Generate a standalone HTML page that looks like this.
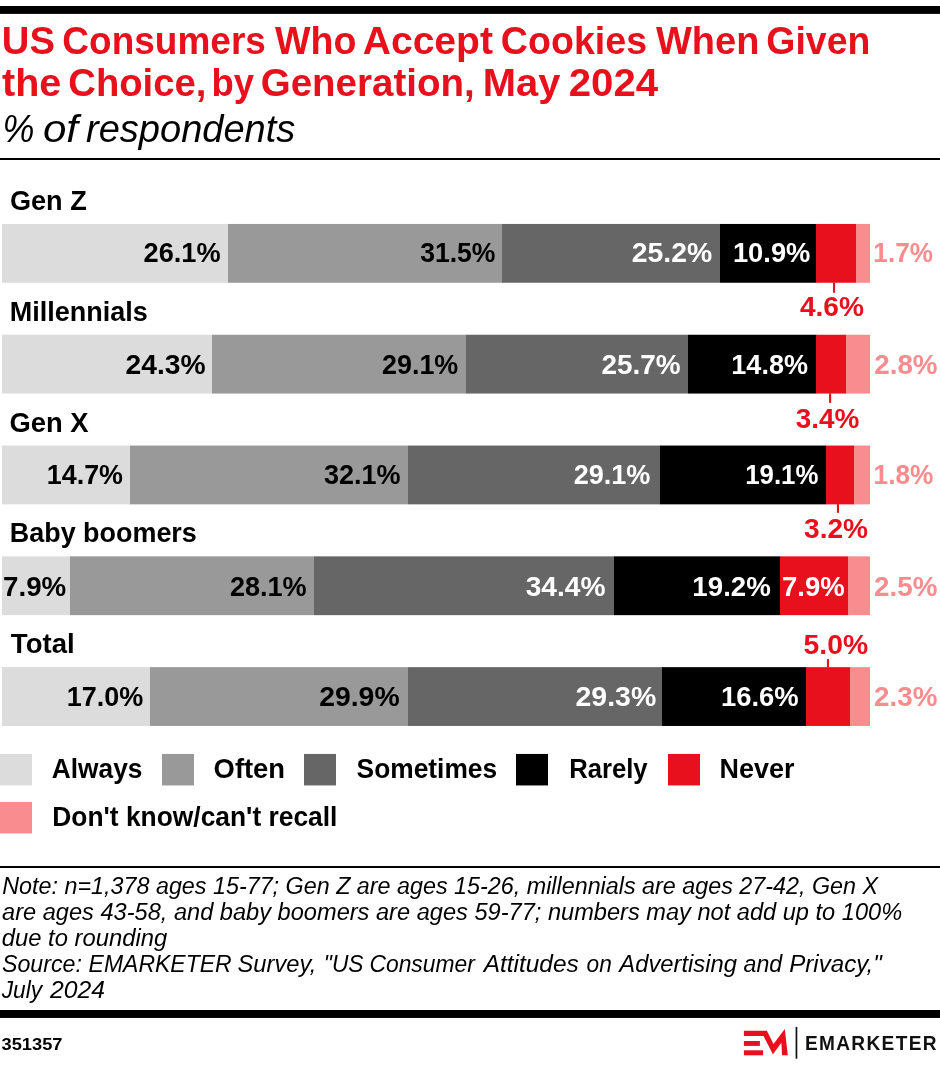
<!DOCTYPE html>
<html><head><meta charset="utf-8"><title>chart</title>
<style>
html,body{margin:0;padding:0;background:#fff;overflow:hidden;}
svg{display:block;font-family:"Liberation Sans", sans-serif;will-change:transform;}
</style></head><body>
<svg width="940" height="1068" viewBox="0 0 940 1068">
<rect width="940" height="1068" fill="#fff"/>
<rect x="0.00" y="6.00" width="940.00" height="7.90" fill="#000"/>
<rect x="0.00" y="158.00" width="940.00" height="2.00" fill="#000"/>
<rect x="2.00" y="223.95" width="226.40" height="58.80" fill="#dcdcdc"/>
<rect x="228.00" y="223.95" width="274.40" height="58.80" fill="#999999"/>
<rect x="502.00" y="223.95" width="218.40" height="58.80" fill="#666666"/>
<rect x="720.00" y="223.95" width="96.40" height="58.80" fill="#000000"/>
<rect x="816.00" y="223.95" width="40.40" height="58.80" fill="#e8101c"/>
<rect x="856.00" y="223.95" width="14.00" height="58.80" fill="#f98c8e"/>
<rect x="833.00" y="282.55" width="2.10" height="10.25" fill="#e8101c"/>
<rect x="2.00" y="334.75" width="210.40" height="58.80" fill="#dcdcdc"/>
<rect x="212.00" y="334.75" width="254.40" height="58.80" fill="#999999"/>
<rect x="466.00" y="334.75" width="222.40" height="58.80" fill="#666666"/>
<rect x="688.00" y="334.75" width="128.40" height="58.80" fill="#000000"/>
<rect x="816.00" y="334.75" width="30.40" height="58.80" fill="#e8101c"/>
<rect x="846.00" y="334.75" width="24.00" height="58.80" fill="#f98c8e"/>
<rect x="829.05" y="393.35" width="2.10" height="9.50" fill="#e8101c"/>
<rect x="2.00" y="445.55" width="128.40" height="58.80" fill="#dcdcdc"/>
<rect x="130.00" y="445.55" width="278.40" height="58.80" fill="#999999"/>
<rect x="408.00" y="445.55" width="252.40" height="58.80" fill="#666666"/>
<rect x="660.00" y="445.55" width="166.40" height="58.80" fill="#000000"/>
<rect x="826.00" y="445.55" width="28.40" height="58.80" fill="#e8101c"/>
<rect x="854.00" y="445.55" width="16.00" height="58.80" fill="#f98c8e"/>
<rect x="836.90" y="504.15" width="2.10" height="8.65" fill="#e8101c"/>
<rect x="2.00" y="556.35" width="68.40" height="58.80" fill="#dcdcdc"/>
<rect x="70.00" y="556.35" width="244.40" height="58.80" fill="#999999"/>
<rect x="314.00" y="556.35" width="300.40" height="58.80" fill="#666666"/>
<rect x="614.00" y="556.35" width="166.40" height="58.80" fill="#000000"/>
<rect x="780.00" y="556.35" width="68.40" height="58.80" fill="#e8101c"/>
<rect x="848.00" y="556.35" width="22.00" height="58.80" fill="#f98c8e"/>
<rect x="2.00" y="667.15" width="148.40" height="58.80" fill="#dcdcdc"/>
<rect x="150.00" y="667.15" width="258.40" height="58.80" fill="#999999"/>
<rect x="408.00" y="667.15" width="254.40" height="58.80" fill="#666666"/>
<rect x="662.00" y="667.15" width="144.40" height="58.80" fill="#000000"/>
<rect x="806.00" y="667.15" width="44.40" height="58.80" fill="#e8101c"/>
<rect x="850.00" y="667.15" width="20.00" height="58.80" fill="#f98c8e"/>
<rect x="826.90" y="659.10" width="2.10" height="8.25" fill="#e8101c"/>
<rect x="0.00" y="753.95" width="32.00" height="31.50" fill="#dcdcdc"/>
<rect x="162.00" y="753.95" width="32.00" height="31.50" fill="#999999"/>
<rect x="304.00" y="753.95" width="32.00" height="31.50" fill="#666666"/>
<rect x="516.00" y="753.95" width="32.00" height="31.50" fill="#000000"/>
<rect x="668.00" y="753.95" width="32.00" height="31.50" fill="#e8101c"/>
<rect x="0.00" y="801.95" width="32.00" height="31.50" fill="#f98c8e"/>
<rect x="0.00" y="866.00" width="940.00" height="2.00" fill="#000"/>
<rect x="0.00" y="1010.00" width="940.00" height="7.95" fill="#000"/>
<rect x="795.60" y="1026.90" width="1.70" height="31.80" fill="#111"/>
<path fill="#e8101c" d="M743.9 1030.8 L766.9 1030.8 L773.5 1044 L784.8 1029.1 L787.8 1055.3 L782 1055.3 L781.4 1042.7 L772.9 1054.2 L763.5 1035.9 L743.9 1035.9 Z"/>
<rect x="743.90" y="1041.00" width="16.00" height="4.90" fill="#e8101c"/>
<rect x="743.90" y="1050.30" width="19.20" height="5.00" fill="#e8101c"/>
<text transform="matrix(0.9667 0 0 1.0000 1.83 54.20)" font-size="39.5" font-weight="bold" font-style="normal" fill="#e8101c">US</text>
<text transform="matrix(0.9369 0 0 1.0000 62.36 54.20)" font-size="39.5" font-weight="bold" font-style="normal" fill="#e8101c">Consumers</text>
<text transform="matrix(0.9524 0 0 1.0000 275.00 54.20)" font-size="39.5" font-weight="bold" font-style="normal" fill="#e8101c">Who</text>
<text transform="matrix(0.9885 0 0 1.0000 362.76 54.20)" font-size="39.5" font-weight="bold" font-style="normal" fill="#e8101c">Accept</text>
<text transform="matrix(0.9517 0 0 1.0000 500.83 54.20)" font-size="39.5" font-weight="bold" font-style="normal" fill="#e8101c">Cookies</text>
<text transform="matrix(0.9619 0 0 1.0000 656.00 54.20)" font-size="39.5" font-weight="bold" font-style="normal" fill="#e8101c">When</text>
<text transform="matrix(0.9479 0 0 1.0000 766.34 54.20)" font-size="39.5" font-weight="bold" font-style="normal" fill="#e8101c">Given</text>
<text transform="matrix(1.0000 0 0 1.0000 2.00 95.60)" font-size="39.5" font-weight="bold" font-style="normal" fill="#e8101c">the</text>
<text transform="matrix(0.9678 0 0 1.0000 68.31 95.60)" font-size="39.5" font-weight="bold" font-style="normal" fill="#e8101c">Choice,</text>
<text transform="matrix(0.9249 0 0 1.0000 211.49 95.60)" font-size="39.5" font-weight="bold" font-style="normal" fill="#e8101c">by</text>
<text transform="matrix(0.9744 0 0 1.0000 260.79 95.60)" font-size="39.5" font-weight="bold" font-style="normal" fill="#e8101c">Generation,</text>
<text transform="matrix(1.0102 0 0 1.0000 482.72 95.60)" font-size="39.5" font-weight="bold" font-style="normal" fill="#e8101c">May</text>
<text transform="matrix(1.0173 0 0 1.0000 568.73 95.60)" font-size="39.5" font-weight="bold" font-style="normal" fill="#e8101c">2024</text>
<text transform="matrix(0.9458 0 0 1.0000 2.50 141.90)" font-size="38" font-weight="normal" font-style="italic" fill="#000">%</text>
<text transform="matrix(1.1081 0 0 1.0000 42.91 141.90)" font-size="38" font-weight="normal" font-style="italic" fill="#000">of</text>
<text transform="matrix(1.0010 0 0 1.0000 86.05 141.90)" font-size="38" font-weight="normal" font-style="italic" fill="#000">respondents</text>
<text transform="matrix(0.9511 0 0 1.0000 9.91 209.80)" font-size="28.5" font-weight="bold" font-style="normal" fill="#000000">Gen Z</text>
<text transform="matrix(0.9711 0 0 1.0000 143.53 261.90)" font-size="28" font-weight="bold" font-style="normal" fill="#000000">26.1%</text>
<text transform="matrix(0.9487 0 0 1.0000 420.19 261.90)" font-size="28" font-weight="bold" font-style="normal" fill="#000000">31.5%</text>
<text transform="matrix(1.0135 0 0 1.0000 631.79 261.90)" font-size="28" font-weight="bold" font-style="normal" fill="#fff">25.2%</text>
<text transform="matrix(0.9766 0 0 1.0000 732.89 261.90)" font-size="28" font-weight="bold" font-style="normal" fill="#fff">10.9%</text>
<text transform="matrix(1.0048 0 0 1.0000 799.90 315.60)" font-size="28" font-weight="bold" font-style="normal" fill="#e8101c">4.6%</text>
<text transform="matrix(0.9339 0 0 1.0000 873.37 261.90)" font-size="28" font-weight="bold" font-style="normal" fill="#f98c8e">1.7%</text>
<text transform="matrix(0.9481 0 0 1.0000 9.70 320.60)" font-size="28.5" font-weight="bold" font-style="normal" fill="#000000">Millennials</text>
<text transform="matrix(1.0096 0 0 1.0000 125.59 374.00)" font-size="28" font-weight="bold" font-style="normal" fill="#000000">24.3%</text>
<text transform="matrix(0.9608 0 0 1.0000 382.04 374.00)" font-size="28" font-weight="bold" font-style="normal" fill="#000000">29.1%</text>
<text transform="matrix(0.9981 0 0 1.0000 601.40 374.00)" font-size="28" font-weight="bold" font-style="normal" fill="#fff">25.7%</text>
<text transform="matrix(0.9662 0 0 1.0000 731.31 374.00)" font-size="28" font-weight="bold" font-style="normal" fill="#fff">14.8%</text>
<text transform="matrix(0.9976 0 0 1.0000 795.75 427.85)" font-size="28" font-weight="bold" font-style="normal" fill="#e8101c">3.4%</text>
<text transform="matrix(0.9935 0 0 1.0000 874.21 374.00)" font-size="28" font-weight="bold" font-style="normal" fill="#f98c8e">2.8%</text>
<text transform="matrix(0.9598 0 0 1.0000 9.50 431.80)" font-size="28.5" font-weight="bold" font-style="normal" fill="#000000">Gen X</text>
<text transform="matrix(0.9597 0 0 1.0000 46.82 483.90)" font-size="28" font-weight="bold" font-style="normal" fill="#000000">14.7%</text>
<text transform="matrix(0.9654 0 0 1.0000 323.98 483.90)" font-size="28" font-weight="bold" font-style="normal" fill="#000000">32.1%</text>
<text transform="matrix(0.9672 0 0 1.0000 573.63 483.90)" font-size="28" font-weight="bold" font-style="normal" fill="#fff">29.1%</text>
<text transform="matrix(0.9234 0 0 1.0000 745.18 483.90)" font-size="28" font-weight="bold" font-style="normal" fill="#fff">19.1%</text>
<text transform="matrix(1.0040 0 0 1.0000 804.05 537.90)" font-size="28" font-weight="bold" font-style="normal" fill="#e8101c">3.2%</text>
<text transform="matrix(0.9388 0 0 1.0000 873.56 483.90)" font-size="28" font-weight="bold" font-style="normal" fill="#f98c8e">1.8%</text>
<text transform="matrix(0.9448 0 0 1.0000 9.81 541.90)" font-size="28.5" font-weight="bold" font-style="normal" fill="#000000">Baby boomers</text>
<text transform="matrix(0.9911 0 0 1.0000 3.06 595.90)" font-size="28" font-weight="bold" font-style="normal" fill="#000000">7.9%</text>
<text transform="matrix(0.9678 0 0 1.0000 229.88 595.90)" font-size="28" font-weight="bold" font-style="normal" fill="#000000">28.1%</text>
<text transform="matrix(1.0051 0 0 1.0000 525.65 595.90)" font-size="28" font-weight="bold" font-style="normal" fill="#fff">34.4%</text>
<text transform="matrix(0.9883 0 0 1.0000 692.37 595.90)" font-size="28" font-weight="bold" font-style="normal" fill="#fff">19.2%</text>
<text transform="matrix(0.9830 0 0 1.0000 782.07 595.90)" font-size="28" font-weight="bold" font-style="normal" fill="#fff">7.9%</text>
<text transform="matrix(0.9935 0 0 1.0000 874.11 595.90)" font-size="28" font-weight="bold" font-style="normal" fill="#f98c8e">2.5%</text>
<text transform="matrix(0.9678 0 0 1.0000 10.86 652.70)" font-size="28.5" font-weight="bold" font-style="normal" fill="#000000">Total</text>
<text transform="matrix(0.9649 0 0 1.0000 66.81 705.90)" font-size="28" font-weight="bold" font-style="normal" fill="#000000">17.0%</text>
<text transform="matrix(1.0135 0 0 1.0000 319.19 705.90)" font-size="28" font-weight="bold" font-style="normal" fill="#000000">29.9%</text>
<text transform="matrix(1.0186 0 0 1.0000 575.48 705.90)" font-size="28" font-weight="bold" font-style="normal" fill="#fff">29.3%</text>
<text transform="matrix(0.9792 0 0 1.0000 720.89 705.90)" font-size="28" font-weight="bold" font-style="normal" fill="#fff">16.6%</text>
<text transform="matrix(1.0113 0 0 1.0000 803.59 653.85)" font-size="28" font-weight="bold" font-style="normal" fill="#e8101c">5.0%</text>
<text transform="matrix(0.9935 0 0 1.0000 874.11 705.90)" font-size="28" font-weight="bold" font-style="normal" fill="#f98c8e">2.3%</text>
<text transform="matrix(0.9226 0 0 1.0000 51.81 777.80)" font-size="28.5" font-weight="bold" font-style="normal" fill="#000000">Always</text>
<text transform="matrix(0.9608 0 0 1.0000 213.60 777.80)" font-size="28.5" font-weight="bold" font-style="normal" fill="#000000">Often</text>
<text transform="matrix(0.9249 0 0 1.0000 356.58 777.80)" font-size="28.5" font-weight="bold" font-style="normal" fill="#000000">Sometimes</text>
<text transform="matrix(0.9000 0 0 1.0000 569.20 777.80)" font-size="28.5" font-weight="bold" font-style="normal" fill="#000000">Rarely</text>
<text transform="matrix(0.9446 0 0 1.0000 719.61 777.80)" font-size="28.5" font-weight="bold" font-style="normal" fill="#000000">Never</text>
<text transform="matrix(0.9260 0 0 1.0000 52.25 825.80)" font-size="28.5" font-weight="bold" font-style="normal" fill="#000000">Don't know/can't recall</text>
<text transform="matrix(0.9929 0 0 1.0000 2.26 894.20)" font-size="23.5" font-weight="normal" font-style="italic" fill="#000">Note: n=1,378 ages 15-77; Gen Z are ages 15-26, millennials are ages 27-42, Gen X</text>
<text transform="matrix(1.0049 0 0 1.0000 2.00 920.25)" font-size="23.5" font-weight="normal" font-style="italic" fill="#000">are ages 43-58, and baby boomers are ages 59-77; numbers may not add up to 100%</text>
<text transform="matrix(1.0139 0 0 1.0000 1.74 946.30)" font-size="23.5" font-weight="normal" font-style="italic" fill="#000">due to rounding</text>
<text transform="matrix(0.9880 0 0 1.0000 1.96 972.35)" font-size="23.5" font-weight="normal" font-style="italic" fill="#000">Source:</text>
<text transform="matrix(0.9789 0 0 1.0000 88.57 972.35)" font-size="23.5" font-weight="normal" font-style="italic" fill="#000">EMARKETER</text>
<text transform="matrix(1.0107 0 0 1.0000 237.54 972.35)" font-size="23.5" font-weight="normal" font-style="italic" fill="#000">Survey,</text>
<text transform="matrix(0.9688 0 0 1.0000 323.82 972.35)" font-size="23.5" font-weight="normal" font-style="italic" fill="#000">&quot;US</text>
<text transform="matrix(0.9722 0 0 1.0000 369.48 972.35)" font-size="23.5" font-weight="normal" font-style="italic" fill="#000">Consumer</text>
<text transform="matrix(1.0391 0 0 1.0000 483.74 972.35)" font-size="23.5" font-weight="normal" font-style="italic" fill="#000">Attitudes</text>
<text transform="matrix(0.9649 0 0 1.0000 586.58 972.35)" font-size="23.5" font-weight="normal" font-style="italic" fill="#000">on</text>
<text transform="matrix(1.0120 0 0 1.0000 619.31 972.35)" font-size="23.5" font-weight="normal" font-style="italic" fill="#000">Advertising</text>
<text transform="matrix(0.9860 0 0 1.0000 743.51 972.35)" font-size="23.5" font-weight="normal" font-style="italic" fill="#000">and</text>
<text transform="matrix(1.0271 0 0 1.0000 789.23 972.35)" font-size="23.5" font-weight="normal" font-style="italic" fill="#000">Privacy,&quot;</text>
<text transform="matrix(0.9674 0 0 1.0000 1.70 998.40)" font-size="23.5" font-weight="normal" font-style="italic" fill="#000">July</text>
<text transform="matrix(1.0537 0 0 1.0000 50.00 998.40)" font-size="23.5" font-weight="normal" font-style="italic" fill="#000">2024</text>
<text transform="matrix(1.0739 0 0 1.0000 1.56 1050.00)" font-size="17" font-weight="bold" font-style="normal" fill="#000000">351357</text>
<text transform="matrix(0.9640 0 0 1.0000 804.89 1049.90)" font-size="19.8" font-weight="bold" font-style="normal" fill="#111" letter-spacing="1.4">EMARKETER</text>
</svg>
</body></html>
